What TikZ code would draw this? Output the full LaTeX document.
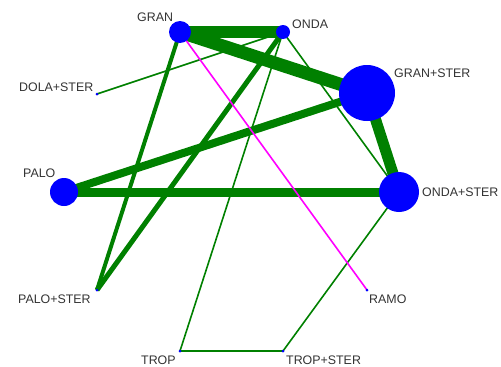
\documentclass[tikz,border=0pt]{standalone}
\usepackage{fontspec}
\setmainfont{Liberation Sans}
\usetikzlibrary{backgrounds}
\definecolor{netgreen}{RGB}{0,128,0}
\definecolor{netblue}{RGB}{0,0,255}
\definecolor{netmagenta}{RGB}{255,0,255}
\definecolor{namegray}{RGB}{51,51,51}
\tikzset{
  treat/.style={circle,fill=netblue,inner sep=0pt,minimum size=#1},
  trial/.style={draw=netgreen,line width=#1},
  tname/.style={text=namegray,inner sep=0pt,anchor=west,
    font=\fontsize{12.4}{14}\selectfont}
}
\begin{document}
\begin{tikzpicture}[x=1pt,y=-1pt]
\useasboundingbox (0,0) rectangle (501,367);

% Marking treatments by circle
\node [treat=22pt] (gran) at (180,32) {};
\node [treat=14pt] (onda) at (283,32) {};
\node [treat=56pt] (granster) at (367,93) {};
\node [treat=40pt] (ondaster) at (399,192) {};
\node [treat=3pt] (ramo) at (367,290) {};
\node [treat=3pt] (tropster) at (283,351) {};
\node [treat=3pt] (trop) at (180,351) {};
\node [treat=3pt] (paloster) at (97,290) {};
\node [treat=28pt] (palo) at (64,192) {};
\node [treat=3pt] (dolaster) at (97,94) {};

% Names
\node [tname] (granname) at (137,17) {GRAN};
\node [tname] (ondaname) at (292,24) {ONDA};
\node [tname] (granstername) at (394,73) {GRAN+STER};
\node [tname] (ondastername) at (422,192) {ONDA+STER};
\node [tname] (ramoname) at (369,299) {RAMO};
\node [tname] (tropstername) at (286,360.5) {TROP+STER};
\node [tname] (tropname) at (141,360) {TROP};
\node [tname] (palostername) at (18,299) {PALO+STER};
\node [tname] (paloname) at (23,173) {PALO};
\node [tname] (dolastername) at (19,87) {DOLA+STER};

\begin{pgfonlayer}{background}
% Drawing thick lines
\draw [trial=13pt] (gran.center) -- (granster.center);
\draw [trial=12pt] (gran.center) -- (onda.center);
\draw [trial=11pt] (granster.center) -- (ondaster.center);
\draw [trial=9pt] (palo.center) -- (ondaster.center);
\draw [trial=8pt] (palo.center) -- (granster.center);
\draw [trial=5pt] (onda.center) -- (paloster.center);
\draw [trial=4pt] (gran.center) -- (paloster.center);

% Drawing thin lines
\draw [trial=1.6pt] (onda.center) -- (dolaster.center);
\draw [trial=1.6pt] (onda.center) -- (trop.center);
\draw [trial=1.6pt] (onda.center) -- (ondaster.center);
\draw [trial=1.6pt] (ondaster.center) -- (tropster.center);
\draw [trial=1.6pt] (trop.center) -- (tropster.center);
\draw [trial=1.6pt,draw=netmagenta] (gran.center) -- (ramo.center);
\end{pgfonlayer}
\end{tikzpicture}
\end{document}
